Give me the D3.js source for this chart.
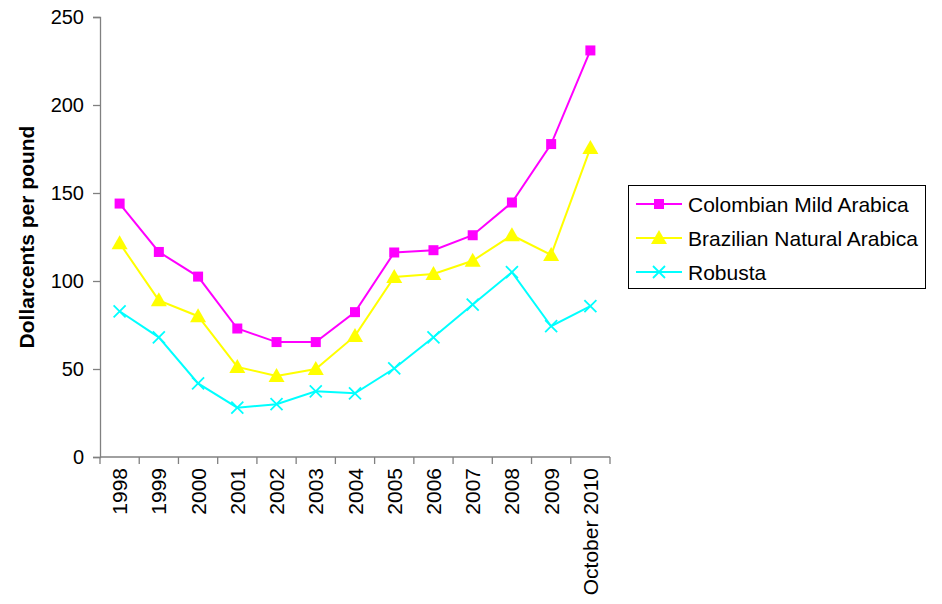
<!DOCTYPE html>
<html>
<head>
<meta charset="utf-8">
<script src="https://cdn.jsdelivr.net/npm/d3@7"></script>
<style>
	body { margin: 0; background: #fff; }
	svg { display: block; font-family: "Liberation Sans", Arial, sans-serif; }
</style>
</head>
<body>
<div id="chart"></div>
<script>

var years = ["1998", "1999", "2000", "2001", "2002", "2003", "2004", "2005", "2006", "2007", "2008", "2009", "October 2010"];

var colombian = [144, 116.5, 102.5, 73, 65.3, 65.3, 82.3, 116.2, 117.5, 126, 144.6, 177.8, 231];
var brazilian = [121.5, 89, 80, 51.2, 46, 50, 68.8, 102.3, 104, 111.5, 126, 114.8, 175.5];
var robusta = [82.8, 68, 41.8, 28, 30, 37.3, 36.2, 50.3, 68, 86.6, 105, 74.3, 85.7];

var yTicks = [0, 50, 100, 150, 200, 250];

var series = [
	{ name: "Colombian Mild Arabica", values: colombian, color: "#ff00ff", shape: "square" },
	{ name: "Brazilian Natural Arabica", values: brazilian, color: "#ffff00", shape: "triangle" },
	{ name: "Robusta", values: robusta, color: "#00ffff", shape: "cross" }
];

var w = 942, h = 604;
var plotLeft = 100, plotRight = 610, plotTop = 17, plotBottom = 457;

var svg = d3.select("#chart")
	.append("svg")
	.attr("width", w)
	.attr("height", h);

var xScale = d3.scaleBand()
	.domain(years)
	.range([plotLeft, plotRight]);

var yScale = d3.scaleLinear()
	.domain([0, 250])
	.range([plotBottom, plotTop]);

var axisColor = "#808080";

// y axis
var yAxis = svg.append("g")
	.attr("transform", "translate(" + plotLeft + ",0)")
	.call(d3.axisLeft(yScale).tickValues(yTicks).tickSize(7).tickPadding(9));

// x axis: ticks sit between categories, labels handled separately
var boundaries = d3.range(years.length + 1).map(i => plotLeft + i * xScale.step());

var xAxis = svg.append("g")
	.attr("transform", "translate(0," + plotBottom + ")");

xAxis.append("line")
	.attr("x1", plotLeft)
	.attr("x2", plotRight)
	.attr("stroke", axisColor)
	.attr("stroke-width", 1.3);

xAxis.selectAll("line.tick")
	.data(boundaries)
	.enter()
	.append("line")
	.attr("class", "tick")
	.attr("x1", d => d)
	.attr("x2", d => d)
	.attr("y1", 0)
	.attr("y2", 7)
	.attr("stroke", axisColor)
	.attr("stroke-width", 1.3);

xAxis.selectAll("text.label")
	.data(years)
	.enter()
	.append("text")
	.attr("class", "label")
	.attr("transform", d => "translate(" + (xScale(d) + xScale.bandwidth() / 2 + 7.5) + ",11) rotate(-90)")
	.attr("text-anchor", "end")
	.attr("font-size", 21)
	.attr("fill", "#000")
	.text(d => d);

yAxis.select(".domain")
	.attr("stroke", axisColor)
	.attr("stroke-width", 1.3);

yAxis.selectAll(".tick line")
	.attr("stroke", axisColor)
	.attr("stroke-width", 1.3);

yAxis.selectAll(".tick text")
	.attr("font-size", 20)
	.attr("font-family", "Liberation Sans, Arial, sans-serif")
	.attr("fill", "#000");

// y title
svg.append("text")
	.attr("transform", "translate(34," + ((plotTop + plotBottom) / 2) + ") rotate(-90)")
	.attr("text-anchor", "middle")
	.attr("font-size", 21)
	.attr("font-weight", "bold")
	.text("Dollarcents per pound");

var line = d3.line()
	.x((d, i) => xScale(years[i]) + xScale.bandwidth() / 2)
	.y(d => yScale(d));

function drawMarker(g, shape, color, x, y) {

	if (shape == "square") {
		g.append("rect")
			.attr("x", x - 5)
			.attr("y", y - 5)
			.attr("width", 10)
			.attr("height", 10)
			.attr("fill", color);
	} else if (shape == "triangle") {
		g.append("path")
			.attr("d", "M" + x + "," + (y - 8) + "L" + (x + 8) + "," + (y + 6) + "L" + (x - 8) + "," + (y + 6) + "Z")
			.attr("fill", color);
	} else {
		g.append("path")
			.attr("d", "M" + (x - 6) + "," + (y - 6) + "L" + (x + 6) + "," + (y + 6) + "M" + (x + 6) + "," + (y - 6) + "L" + (x - 6) + "," + (y + 6))
			.attr("stroke", color)
			.attr("stroke-width", 1.8);
	}

}

series.forEach(function(s) {

	var g = svg.append("g");

	g.append("path")
		.datum(s.values)
		.attr("d", line)
		.attr("fill", "none")
		.attr("stroke", s.color)
		.attr("stroke-width", 2);

	s.values.forEach(function(v, i) {
		drawMarker(g, s.shape, s.color, xScale(years[i]) + xScale.bandwidth() / 2, yScale(v));
	});

});

// legend
var legend = svg.append("g");

legend.append("rect")
	.attr("x", 628.5)
	.attr("y", 185.5)
	.attr("width", 297)
	.attr("height", 103)
	.attr("fill", "#fff")
	.attr("stroke", "#000")
	.attr("stroke-width", 1);

series.forEach(function(s, i) {

	var ly = 204 + i * 34;

	legend.append("line")
		.attr("x1", 636)
		.attr("x2", 682)
		.attr("y1", ly)
		.attr("y2", ly)
		.attr("stroke", s.color)
		.attr("stroke-width", 2);

	drawMarker(legend, s.shape, s.color, 659, ly);

	legend.append("text")
		.attr("x", 688)
		.attr("y", ly + 7.5)
		.attr("font-size", 21)
		.attr("fill", "#000")
		.text(s.name);

});

</script>
</body>
</html>
